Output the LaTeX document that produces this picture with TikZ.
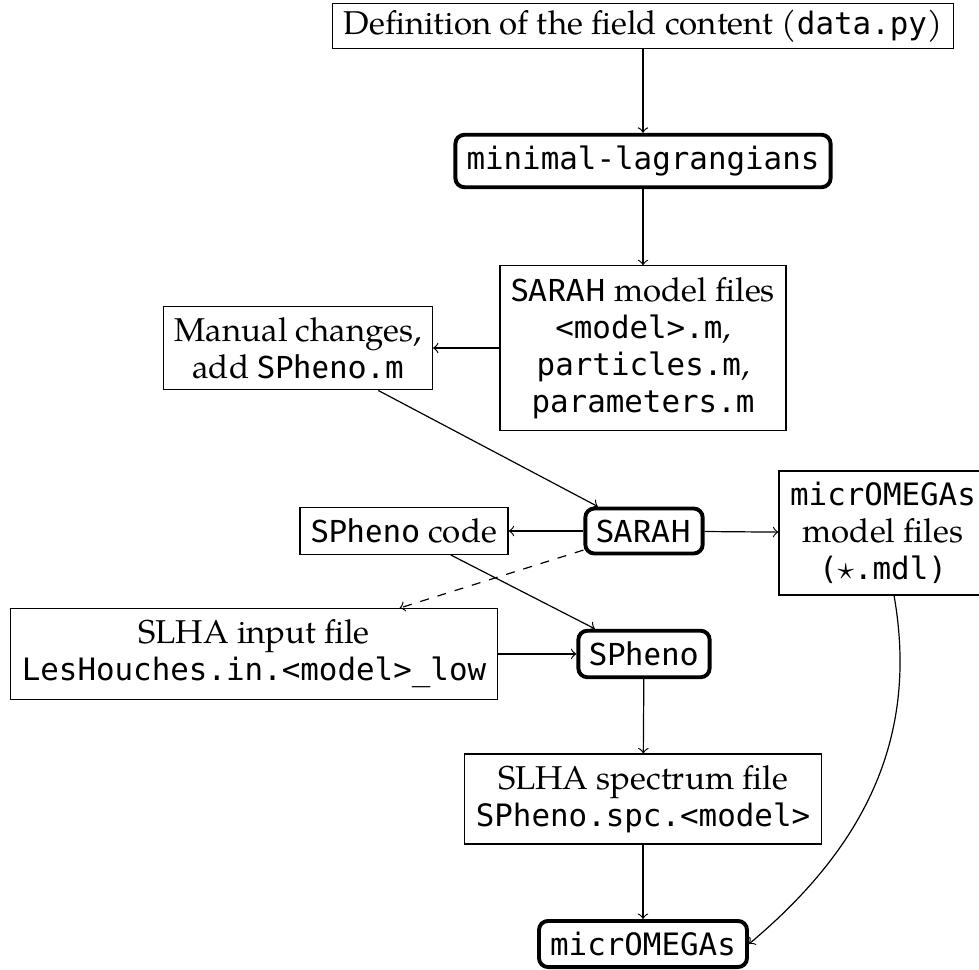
\documentclass[tikz,border=0pt]{standalone}
\usepackage{fontspec}
\setmainfont{TeX Gyre Pagella}
\setsansfont[Scale=0.97]{Fira Sans}
\setmonofont[Scale=0.935]{DejaVu Sans Mono}

\tikzset{
  file/.style={draw, align=center, inner xsep=3.7pt, inner ysep=3.7pt,
    font=\fontsize{11}{12.4}\selectfont},
  prog/.style={file, line width=1.3pt, rounded corners=3pt},
}

\begin{document}
\begin{tikzpicture}[x=0.3333pt, y=-0.3333pt]
\useasboundingbox (0,0) rectangle (979,970);
\node[file, inner ysep=2pt] (def) at (643,26) {Definition of the field content (\texttt{data.py})};
\node[prog] (ml) at (643,161) {\texttt{minimal-lagrangians}};
\node[file] (sarahfiles) at (643,348) {\textsf{SARAH} model files\\\texttt{<model>.m},\\\texttt{particles.m},\\\texttt{parameters.m}};
\node[file] (manual) at (298,348) {Manual changes,\\add \textsf{SPheno}\texttt{.m}};
\node[prog] (sarah) at (644,531) {\textsf{SARAH}};
\node[file] (sphcode) at (404,531) {\textsf{SPheno} code};
\node[file] (mofiles) at (883,533) {\texttt{micrOMEGAs}\\model files\\\texttt{($\star$.mdl)}};
\node[file] (slhain) at (254,654) {SLHA input file\\\texttt{LesHouches.in.<model>\_low}};
\node[prog] (spheno) at (644,654) {\textsf{SPheno}};
\node[file] (spc) at (643,799) {SLHA spectrum file\\\texttt{SPheno.spc.<model>}};
\node[prog] (mo) at (643,944) {\texttt{micrOMEGAs}};

\draw[->] (def) -- (ml);
\draw[->] (ml) -- (sarahfiles);
\draw[->] (sarahfiles) -- (manual);
\draw[->] (manual) -- (sarah);
\draw[->] (sarah) -- (sphcode);
\draw[->] (sarah) -- (mofiles);
\draw[->, dashed] (sarah) -- (slhain);
\draw[->] (sphcode) -- (spheno);
\draw[->] (slhain) -- (spheno);
\draw[->] (spheno) -- (spc);
\draw[->] (spc) -- (mo);
\draw[->] (mofiles) to[out=-80,in=40] (mo.east);
\end{tikzpicture}
\end{document}
